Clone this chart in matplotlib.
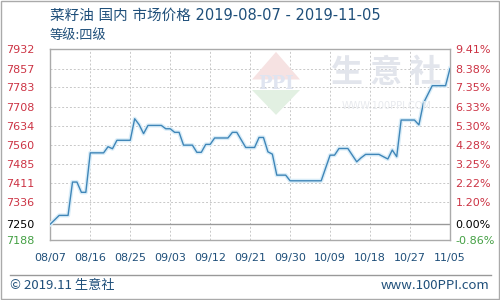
import pandas as pd
import matplotlib
matplotlib.use("Agg")
import matplotlib.pyplot as plt
import matplotlib.dates as mdates
from matplotlib.patches import Polygon, Rectangle
from matplotlib.lines import Line2D

OUTPUT_FILE = "out.png"

TITLE = "菜籽油 国内 市场价格 2019-08-07 - 2019-11-05"
SUBTITLE = "等级:四级"

# turning points of the daily price line (yuan/ton)
dates = ["2019-08-07", "2019-08-09", "2019-08-11", "2019-08-12", "2019-08-13",
         "2019-08-14", "2019-08-15", "2019-08-16", "2019-08-19", "2019-08-20",
         "2019-08-21", "2019-08-22", "2019-08-25", "2019-08-26", "2019-08-27",
         "2019-08-28", "2019-08-29", "2019-09-01", "2019-09-02", "2019-09-03",
         "2019-09-04", "2019-09-05", "2019-09-06", "2019-09-08", "2019-09-09",
         "2019-09-10", "2019-09-11", "2019-09-12", "2019-09-13", "2019-09-16",
         "2019-09-17", "2019-09-18", "2019-09-20", "2019-09-22", "2019-09-23",
         "2019-09-24", "2019-09-25", "2019-09-26", "2019-09-27", "2019-09-29",
         "2019-09-30", "2019-10-07", "2019-10-09", "2019-10-10", "2019-10-11",
         "2019-10-13", "2019-10-15", "2019-10-16", "2019-10-17", "2019-10-20",
         "2019-10-22", "2019-10-23", "2019-10-24", "2019-10-25", "2019-10-28",
         "2019-10-29", "2019-10-30", "2019-11-01", "2019-11-04", "2019-11-05"]
prices = [7250, 7284, 7284, 7414, 7414,
          7374, 7374, 7528, 7528, 7552,
          7544, 7577, 7577, 7661, 7638,
          7603, 7635, 7635, 7622, 7622,
          7608, 7608, 7558, 7558, 7530,
          7530, 7561, 7561, 7586, 7586,
          7608, 7608, 7549, 7549, 7588,
          7588, 7532, 7523, 7441, 7441,
          7419, 7419, 7519, 7519, 7545,
          7545, 7493, 7509, 7522, 7522,
          7504, 7539, 7513, 7656, 7656,
          7637, 7721, 7790, 7790, 7857]

base_price = 7250
y_ticks = [7188, 7250, 7336, 7411, 7485, 7560, 7634, 7708, 7783, 7857, 7932]
pct_labels = ["-0.86%", "0.00%", "1.20%", "2.22%", "3.25%", "4.28%",
              "5.30%", "6.33%", "7.35%", "8.38%", "9.41%"]
x_tick_dates = ["2019-08-07", "2019-08-16", "2019-08-25", "2019-09-03",
                "2019-09-12", "2019-09-21", "2019-09-30", "2019-10-09",
                "2019-10-18", "2019-10-27", "2019-11-05"]

CJK = ["Noto Sans CJK SC", "DejaVu Sans"]
LATIN_CJK = ["DejaVu Sans", "Noto Sans CJK SC"]
NAVY = "#1f4f7a"
RED = "#cc3344"
GREEN = "#44a044"

fig = plt.figure(figsize=(5, 3), dpi=100)
fig.patch.set_facecolor("white")
ax = fig.add_axes([0.1006, 0.2, 0.7994, 0.6357])

x = pd.to_datetime(dates)
x_ticks = pd.to_datetime(x_tick_dates)

# watermark: logo + site name
fig.patches.append(Polygon([(0.552, 0.827), (0.504, 0.735), (0.600, 0.735)],
                           closed=True, transform=fig.transFigure,
                           facecolor="#f6e2e2", edgecolor="none", zorder=0))
fig.patches.append(Polygon([(0.504, 0.700), (0.600, 0.700), (0.552, 0.617)],
                           closed=True, transform=fig.transFigure,
                           facecolor="#e2f0e2", edgecolor="none", zorder=0))
fig.text(0.552, 0.720, "PPI", color="#dfe4f0", fontsize=13, fontweight="bold",
         family="DejaVu Serif", ha="center", va="center", zorder=0)
fig.text(0.773, 0.757, "生 意 社", color="#e2e5ec", fontsize=23, fontweight="bold",
         family=CJK, ha="center", va="center", zorder=0)
fig.text(0.773, 0.647, "WWW.100PPI.COM", color="#e8eaee", fontsize=7,
         ha="center", va="center", zorder=0)
ax.set_facecolor("none")

ax.plot(x, prices, color="#daedf8", linewidth=3.0, solid_joinstyle="round", zorder=3)
ax.plot(x, prices, color="#3f86b8", linewidth=1.0, zorder=4)

ax.set_xlim(x_ticks[0], x_ticks[-1])
ax.set_ylim(y_ticks[0], y_ticks[-1])
ax.set_xticks(x_ticks)
ax.xaxis.set_major_formatter(mdates.DateFormatter("%m/%d"))
ax.set_yticks(y_ticks)
ax.set_yticklabels([str(v) for v in y_ticks])

ax.grid(True, color="#c8c8c8", linestyle=(0, (2, 2)), linewidth=0.7)
ax.axhline(base_price, color="#999999", linewidth=1.0, zorder=2)
for s in ax.spines.values():
    s.set_color("#aaaaaa")
    s.set_linewidth(1.0)

ax.tick_params(axis="x", length=0, pad=9, labelsize=8, labelcolor=NAVY)
ax.tick_params(axis="y", length=0, labelsize=8)
for lab in ax.get_yticklabels():
    lab.set_horizontalalignment("left")
for lab, v in zip(ax.get_yticklabels(), y_ticks):
    lab.set_color("black" if v == base_price else GREEN if v < base_price else RED)
ax.yaxis.set_tick_params(pad=32)

ax2 = ax.twinx()
ax2.set_ylim(y_ticks[0], y_ticks[-1])
ax2.set_yticks(y_ticks)
ax2.set_yticklabels(pct_labels)
ax2.tick_params(axis="y", length=0, pad=4, labelsize=8)
for lab, v in zip(ax2.get_yticklabels(), y_ticks):
    lab.set_color("black" if v == base_price else GREEN if v < base_price else RED)
for s in ax2.spines.values():
    s.set_visible(False)

fig.text(0.1, 0.95, TITLE, color=NAVY, fontsize=10.5, family=LATIN_CJK, ha="left", va="center")
fig.text(0.1, 0.883, SUBTITLE, color=NAVY, fontsize=9.5, family=CJK, ha="left", va="center")

fig.lines.append(Line2D([0.02, 0.982], [0.082, 0.082], transform=fig.transFigure,
                        color="#999999", linewidth=1.0))
fig.text(0.02, 0.048, "© 2019.11 生意社", color=NAVY, fontsize=9.5, family=CJK,
         ha="left", va="center")
fig.text(0.978, 0.048, "www.100PPI.com", color=NAVY, fontsize=9.5, family=CJK,
         ha="right", va="center")
fig.patches.append(Rectangle((0.001, 0.002), 0.997, 0.995, transform=fig.transFigure,
                             fill=False, edgecolor="#aaaaaa", linewidth=1.0))

fig.savefig(OUTPUT_FILE, dpi=100)
